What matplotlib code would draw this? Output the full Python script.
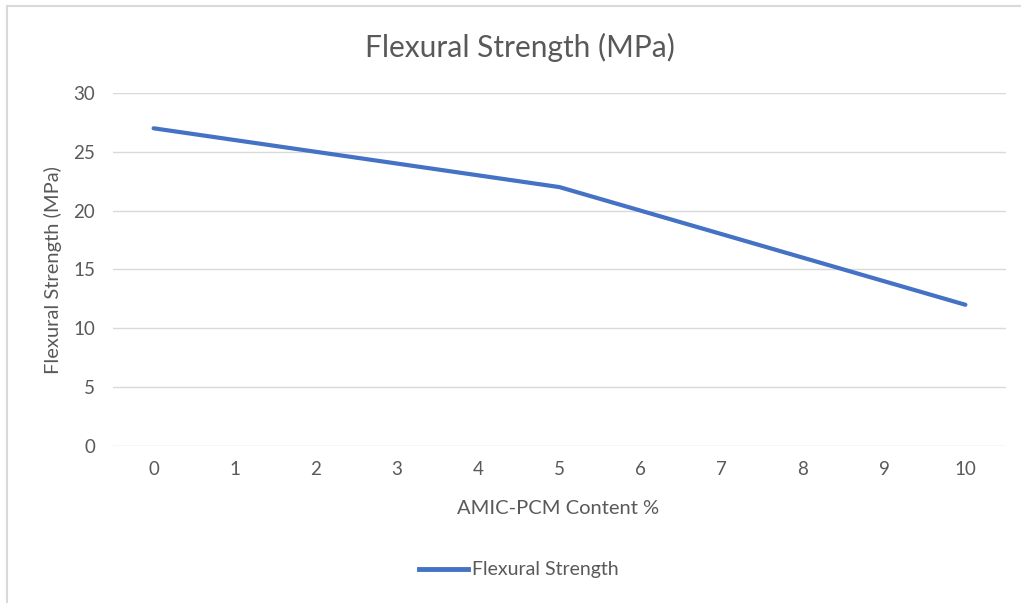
import matplotlib.pyplot as plt
from matplotlib.lines import Line2D

plt.rcParams['font.family'] = ['Lato', 'DejaVu Sans']

content = [0, 1, 2, 3, 4, 5, 6, 7, 8, 9, 10]
strength = [27, 26, 25, 24, 23, 22, 20, 18, 16, 14, 12]
y_ticks = [0, 5, 10, 15, 20, 25, 30]

txt = '#595959'
grid = '#d9d9d9'
blue = '#4472C4'

fig = plt.figure(figsize=(10.21, 6.03), dpi=100)
ax = fig.add_axes([0.1107, 0.2604, 0.8746, 0.5854])

ax.plot(content, strength, color=blue, linewidth=3, solid_capstyle='round',
        label='Flexural Strength')

ax.set_xlim(-0.5, 10.5)
ax.set_ylim(0, 30)
ax.set_xticks(content)
ax.set_yticks(y_ticks)
ax.tick_params(length=0, colors=txt, labelsize=13.5)
ax.tick_params(axis='x', pad=11)
ax.tick_params(axis='y', pad=13)
ax.yaxis.grid(True, color=grid, linewidth=1)
ax.set_axisbelow(True)
for s in ax.spines.values():
    s.set_visible(False)

fig.text(0.509, 0.922, 'Flexural Strength (MPa)', ha='center', va='center',
         fontsize=21.5, color=txt)
fig.text(0.052, 0.552, 'Flexural Strength (MPa)', ha='center', va='center',
         rotation=90, fontsize=14.5, color=txt)
fig.text(0.547, 0.157, 'AMIC-PCM Content %', ha='center', va='center',
         fontsize=14.5, color=txt)

leg = fig.legend(handles=[Line2D([0], [0], color=blue, linewidth=3.5)],
                 labels=['Flexural Strength'], loc='center',
                 bbox_to_anchor=(0.508, 0.055), frameon=False, fontsize=14,
                 handlelength=2.5, handletextpad=0.2)
for t in leg.get_texts():
    t.set_color(txt)

# outer chart frame (cropped at right and bottom)
fig.add_artist(Line2D([0.0069, 0.0069], [0, 0.990], color=grid, linewidth=1.5))
fig.add_artist(Line2D([0.0069, 1.0], [0.990, 0.990], color=grid, linewidth=1.5))

fig.savefig('out.png', dpi=100)
